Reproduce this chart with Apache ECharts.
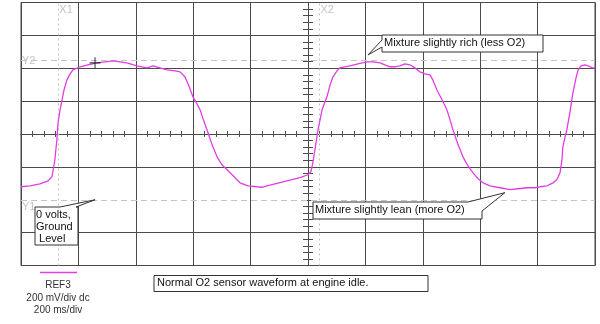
<!DOCTYPE html>
<html>
<head>
<meta charset="utf-8">
<title>Normal O2 sensor waveform at engine idle</title>
<script src="https://cdn.jsdelivr.net/npm/echarts@6/dist/echarts.min.js"></script>
<style>
  html, body { margin: 0; padding: 0; background: #fff; }
  #chart { width: 600px; height: 324px; }
</style>
</head>
<body>
<div id="chart"></div>
<script>
// REF3 trace: time in ms (200 ms/div), voltage in mV (200 mV/div, 0 V = ground)
const timeMs = [0, 31, 66, 94, 108, 118, 125, 129, 136, 143, 150, 160, 171, 181, 206, 233, 265, 293, 321, 345,
  369, 404, 439, 460, 484, 509, 537, 554, 571, 585, 599, 613, 624, 638, 648, 666, 683, 700, 718, 739,
  763, 791, 822, 840, 857, 885, 913, 944, 972, 1000, 1010, 1017, 1024, 1035, 1049, 1066, 1077, 1087, 1101, 1111,
  1146, 1174, 1205, 1226, 1251, 1268, 1286, 1303, 1320, 1338, 1355, 1373, 1390, 1407, 1425, 1435, 1449, 1467, 1484, 1495,
  1505, 1523, 1540, 1557, 1575, 1592, 1610, 1634, 1669, 1704, 1732, 1763, 1791, 1808, 1833, 1854, 1867, 1878, 1885, 1888,
  1895, 1902, 1913, 1923, 1934, 1941, 1951, 1965, 1976, 1990, 2000];
const voltsMv = [79, 85, 97, 115, 140, 243, 365, 468, 547, 608, 669, 729, 766, 790, 809, 821, 833, 839, 845, 839,
  833, 815, 802, 815, 802, 790, 784, 778, 748, 693, 626, 584, 547, 474, 426, 334, 261, 213, 182, 146,
  103, 85, 79, 76, 85, 97, 109, 122, 134, 152, 170, 225, 304, 426, 547, 626, 699, 748, 784, 802,
  815, 827, 839, 839, 833, 821, 809, 809, 815, 827, 821, 802, 778, 766, 760, 729, 669, 608, 547, 486,
  426, 334, 261, 207, 164, 128, 103, 85, 73, 61, 67, 73, 73, 79, 85, 103, 122, 164, 243, 322,
  377, 426, 535, 650, 742, 790, 815, 821, 815, 802, 802];

// Cursor positions
const cursorX = { X1: 130, X2: 1040 };      // ms
const cursorY = { Y1: 0, Y2: 847 };         // mV
// Crosshair marker on the trace
const markerPoint = [258, 833];

// Scope settings
const voltsPerDiv = 200, msPerDiv = 200;
const vMin = -400, vMax = 1200, tMin = 0, tMax = 2000;

// Annotation texts and the trace points they refer to
const noteRich = 'Mixture slightly rich (less O2)';
const noteRichAt = [1209, 881];
const noteLean = 'Mixture slightly lean (more O2)';
const noteLeanAt = [1686, 43];
const noteGround = ['0 volts,', 'Ground', ' Level'];
const noteGroundAt = [258, 0];
const caption = 'Normal O2 sensor waveform at engine idle.';
const legendLines = ['REF3', '200 mV/div dc', '200 ms/div'];

const gridColor = '#4a4a4a';
const traceColor = '#e23de2';
const cursorColor = '#c4c4c4';
const font = 'Liberation Sans, Arial, sans-serif';

const chart = echarts.init(document.getElementById('chart'), null, { renderer: 'canvas' });

// Every horizontal division line except the ground line (drawn as the Y1 cursor)
const ySplitColors = [];
for (let v = vMin; v <= vMax; v += voltsPerDiv) ySplitColors.push(v === 0 ? 'rgba(0,0,0,0)' : gridColor);

const tickAxisX = (inside) => ({
  type: 'value', min: tMin, max: tMax, interval: msPerDiv / 5,
  position: 'bottom', offset: -131.6,
  axisLine: { show: true, onZero: false, lineStyle: { color: gridColor, width: 1 } },
  axisTick: { show: true, inside: inside, length: 3, lineStyle: { color: gridColor, width: 1 } },
  axisLabel: { show: false }, splitLine: { show: false }
});
const tickAxisY = (inside) => ({
  type: 'value', min: vMin, max: vMax, interval: voltsPerDiv / 5,
  position: 'left', offset: -287,
  axisLine: { show: true, onZero: false, lineStyle: { color: gridColor, width: 1 } },
  axisTick: { show: true, inside: inside, length: 5, lineStyle: { color: gridColor, width: 1 } },
  axisLabel: { show: false }, splitLine: { show: false }
});

chart.setOption({
  animation: false,
  backgroundColor: '#ffffff',
  grid: {
    left: 21, right: 5, top: 2.5, bottom: 58.5,
    show: true, borderColor: gridColor, borderWidth: 1, backgroundColor: 'transparent',
    outerBoundsMode: 'none'
  },
  xAxis: [
    {
      type: 'value', min: tMin, max: tMax, interval: msPerDiv,
      axisLine: { show: false }, axisTick: { show: false }, axisLabel: { show: false },
      splitLine: { show: true, lineStyle: { color: gridColor, width: 1 } }
    },
    tickAxisX(true),
    tickAxisX(false)
  ],
  yAxis: [
    {
      type: 'value', min: vMin, max: vMax, interval: voltsPerDiv,
      axisLine: { show: false }, axisTick: { show: false }, axisLabel: { show: false },
      splitLine: { show: true, lineStyle: { color: ySplitColors, width: 1 } }
    },
    tickAxisY(true),
    tickAxisY(false)
  ],
  series: [
    {
      name: 'REF3',
      type: 'line',
      data: timeMs.map((t, i) => [t, voltsMv[i]]),
      showSymbol: false,
      smooth: false,
      lineStyle: { color: traceColor, width: 1.3 },
      z: 5,
      markLine: {
        silent: true,
        symbol: ['none', 'none'],
        label: { show: false },
        lineStyle: { color: cursorColor, width: 1, type: [6, 4] },
        data: [
          { xAxis: cursorX.X1, lineStyle: { type: [2, 3] } },
          { xAxis: cursorX.X2, lineStyle: { type: [2, 3] } },
          { yAxis: cursorY.Y1 },
          { yAxis: cursorY.Y2 }
        ],
        z: 1
      }
    },
    {
      name: 'marker',
      type: 'scatter',
      data: [markerPoint],
      symbol: 'path://M0,4.5H10V5.5H0Z M4.5,0H5.5V10H4.5Z',
      symbolSize: 11,
      itemStyle: { color: '#111' },
      z: 6
    }
  ]
});

// Annotation callouts and cursor labels, anchored to data positions
function px(p) { return chart.convertToPixel({ gridIndex: 0 }, p); }

const bubbleStyle = { fill: '#ffffff', stroke: '#333', lineWidth: 1 };
const noteText = { fill: '#111', font: '11px ' + font };

const tipRich = px(noteRichAt);
const tipLean = px(noteLeanAt);
const tipGround = px(noteGroundAt);
const x1 = px([cursorX.X1, vMax]);
const x2 = px([cursorX.X2, vMax]);
const y1 = px([tMin, cursorY.Y1]);
const y2 = px([tMin, cursorY.Y2]);

const graphics = [
  // cursor names
  { type: 'text', x: x1[0] + 1, y: x1[1] + 2, style: { text: 'X1', fill: cursorColor, font: '11px ' + font } },
  { type: 'text', x: x2[0] + 1, y: x2[1] + 2, style: { text: 'X2', fill: cursorColor, font: '11px ' + font } },
  { type: 'text', x: y1[0] + 1, y: y1[1] + 2, style: { text: 'Y1', fill: cursorColor, font: '11px ' + font } },
  { type: 'text', x: y2[0] + 1, y: y2[1] - 5, style: { text: 'Y2', fill: cursorColor, font: '11px ' + font } },

  // rich callout
  { type: 'polygon', z: 10, shape: { points: [[382, 35], [543, 35], [543, 52], [382, 52], [382, 47], tipRich, [382, 40]] }, style: bubbleStyle },
  { type: 'text', z: 11, x: 384, y: 37, style: Object.assign({ text: noteRich }, noteText) },

  // lean callout
  { type: 'polygon', z: 10, shape: { points: [[313, 202], [468, 202], tipLean, [482, 211], [482, 219], [313, 219]] }, style: bubbleStyle },
  { type: 'text', z: 11, x: 315, y: 204, style: Object.assign({ text: noteLean }, noteText) },

  // ground callout
  { type: 'polygon', z: 10, shape: { points: [[35, 207], [60, 207], tipGround, [76, 207], [78, 207], [78, 245], [35, 245]] }, style: bubbleStyle },
  { type: 'text', z: 11, x: 36, y: 209, style: Object.assign({ text: noteGround.join('\n'), lineHeight: 12 }, noteText) },

  // caption box
  { type: 'rect', z: 10, shape: { x: 154, y: 275.5, width: 274, height: 16 }, style: bubbleStyle },
  { type: 'text', z: 11, x: 157, y: 277, style: Object.assign({ text: caption }, noteText) },

  // trace legend
  { type: 'line', shape: { x1: 40, y1: 272.5, x2: 77, y2: 272.5 }, style: { stroke: traceColor, lineWidth: 1.3 } },
  { type: 'text', x: 58, y: 279, style: { text: legendLines.join('\n'), align: 'center', fill: '#333', font: '10px ' + font, lineHeight: 12.5 } }
];

chart.setOption({ graphic: graphics });
</script>
</body>
</html>
